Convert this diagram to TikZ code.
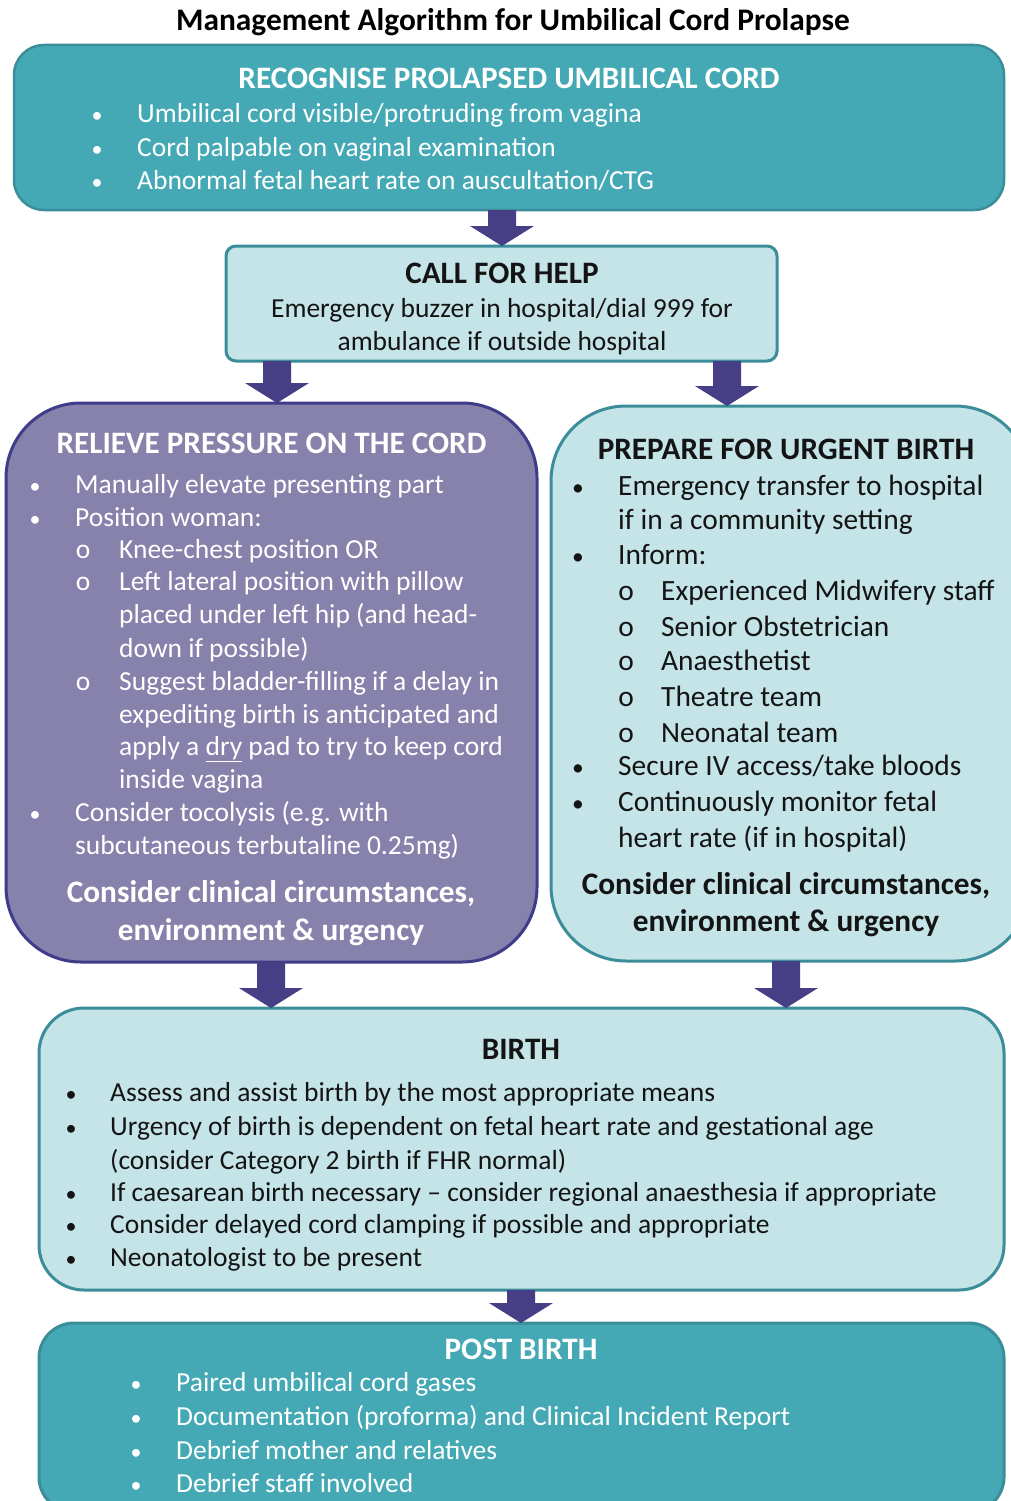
\documentclass[tikz,border=0pt]{standalone}
\usepackage{fontspec}
\setmainfont{Carlito}
\usetikzlibrary{calc}
\definecolor{tealfill}{HTML}{44A9B5}
\definecolor{tealline}{HTML}{3A8D99}
\definecolor{lightfill}{HTML}{C5E4E8}
\definecolor{purpfill}{HTML}{8682AC}
\definecolor{purpline}{HTML}{3F3C8A}
\definecolor{arrcol}{HTML}{463F85}
\definecolor{ink}{HTML}{141414}
\tikzset{
  boxbase/.style={inner sep=0pt, outer sep=0pt, line width=2.5pt},
  darkbox/.style={boxbase, fill=tealfill, draw=tealline},
  lightbox/.style={boxbase, fill=lightfill, draw=tealline},
  purpbox/.style={boxbase, fill=purpfill, draw=purpline},
  txw/.style={inner sep=0pt, text=white, font=\fontsize{27.5}{30}\selectfont},
  txk/.style={inner sep=0pt, text=ink, font=\fontsize{27.5}{30}\selectfont},
  txkb/.style={inner sep=0pt, text=ink, font=\fontsize{29.4}{30}\selectfont},
  hdw/.style={inner sep=0pt, anchor=base, text=white, font=\fontsize{31.2}{34}\selectfont\bfseries},
  hdk/.style={inner sep=0pt, anchor=base, text=ink, font=\fontsize{31.2}{34}\selectfont\bfseries},
  ccw/.style={inner sep=0pt, anchor=base, text=white, font=\fontsize{31.3}{34}\selectfont\bfseries},
  cck/.style={inner sep=0pt, anchor=base, text=ink, font=\fontsize{31.3}{34}\selectfont\bfseries},
}
\newcommand{\bdot}{\scalebox{0.8}{\textbullet}}
% bullet line: name, symbol, bullet x, text x, baseline y, style, text
\newcommand{\blt}[7]{%
  \node[#6, anchor=base] (#1b) at (#3,#5) {#2};
  \node[#6, anchor=base west] (#1) at (#4,#5) {#7};}
% block arrow from #1 (top) to #2 (tip)
\newcommand{\barrow}[2]{%
  \fill[arrcol] let \p1=(#1), \p2=(#2) in
    (\x1-14pt,\y1) -- (\x1+14pt,\y1) -- (\x1+14pt,\y2+20pt) -- (\x1+32pt,\y2+20pt)
    -- (\x1,\y2) -- (\x1-32pt,\y2+20pt) -- (\x1-14pt,\y2+20pt) -- cycle;}
\begin{document}
\begin{tikzpicture}[x=1pt,y=-1pt]
\useasboundingbox (0,0) rectangle (1011,1501);
\fill[white] (0,0) rectangle (1011,1501);

% title
\node[inner sep=0pt, anchor=base, text=black, font=\fontsize{31.4}{34}\selectfont\bfseries] (title) at (513,31) {Management Algorithm for Umbilical Cord Prolapse};

% boxes
\node[darkbox, rounded corners=30pt, minimum width=990pt, minimum height=165pt] (recog) at (509,127.5) {};
\node[lightbox, line width=3pt, rounded corners=10pt, minimum width=551pt, minimum height=115pt] (help) at (501.5,303.5) {};
\node[purpbox, line width=3pt, rounded corners=75pt, minimum width=531pt, minimum height=559pt] (relieve) at (271.5,682.5) {};
\node[lightbox, line width=3pt, rounded corners=75pt, minimum width=479pt, minimum height=555pt] (prepare) at (790.5,683.5) {};
\node[lightbox, line width=3pt, rounded corners=45pt, minimum width=965pt, minimum height=282pt] (birth) at (521.5,1149) {};
\node[darkbox, line width=3pt, rounded corners=35pt, minimum width=965pt, minimum height=189pt] (post) at (521.5,1417.5) {};

% arrow x positions
\coordinate (ax1) at (502,0);
\coordinate (ax2) at (277,0);
\coordinate (ax3) at (727,0);
\coordinate (ax4) at (271,0);
\coordinate (ax5) at (786,0);
\coordinate (ax6) at (521,0);
\barrow{recog.south -| ax1}{help.north -| ax1}
\barrow{help.south -| ax2}{relieve.north -| ax2}
\barrow{help.south -| ax3}{prepare.north -| ax3}
\barrow{relieve.south -| ax4}{birth.north -| ax4}
\barrow{prepare.south -| ax5}{birth.north -| ax5}
\barrow{birth.south -| ax6}{post.north -| ax6}

% box 1
\node[hdw] (r0) at (509,89) {RECOGNISE PROLAPSED UMBILICAL CORD};
\blt{r1}{\bdot}{97}{137}{123}{txw}{Umbilical cord visible/protruding from vagina}
\blt{r2}{\bdot}{97}{137}{157}{txw}{Cord palpable on vaginal examination}
\blt{r3}{\bdot}{97}{137}{189}{txw}{Abnormal fetal heart rate on auscultation/CTG}

% box 2
\node[hdk] (h0) at (502,283) {CALL FOR HELP};
\node[txk, anchor=base] (h1) at (502,317) {Emergency buzzer in hospital/dial 999 for};
\node[txk, anchor=base] (h2) at (502,350) {ambulance if outside hospital};

% box 3
\node[hdw] (p0) at (271.5,453) {RELIEVE PRESSURE ON THE CORD};
\blt{p1}{\bdot}{35}{75}{493}{txw}{Manually elevate presenting part}
\blt{p2}{\bdot}{35}{75}{526}{txw}{Position woman:}
\blt{p3}{o}{83}{119}{558}{txw}{Knee-chest position OR}
\blt{p4}{o}{83}{119}{590}{txw}{Left lateral position with pillow}
\node[txw, anchor=base west] (p5) at (119,623) {placed under left hip (and head-};
\node[txw, anchor=base west] (p6) at (119,657) {down if possible)};
\blt{p7}{o}{83}{119}{690}{txw}{Suggest bladder-filling if a delay in}
\node[txw, anchor=base west] (p8) at (119,723) {expediting birth is anticipated and};
\node[txw, anchor=base west] (p9) at (119,755) {apply a \underline{dry} pad to try to keep cord};
\node[txw, anchor=base west] (p10) at (119,788) {inside vagina};
\blt{p11}{\bdot}{35}{75}{821}{txw}{Consider tocolysis (e.g. with}
\node[txw, anchor=base west] (p12) at (75,854) {subcutaneous terbutaline 0.25mg)};
\node[ccw] (p13) at (271,902) {Consider clinical circumstances,};
\node[ccw] (p14) at (271,940) {environment \& urgency};

% box 4
\node[hdk] (u0) at (786,459) {PREPARE FOR URGENT BIRTH};
\blt{u1}{\bdot}{578}{618}{495}{txkb}{Emergency transfer to hospital}
\node[txkb, anchor=base west] (u2) at (618,529) {if in a community setting};
\blt{u3}{\bdot}{578}{618}{564}{txkb}{Inform:}
\blt{u4}{o}{626}{661}{600}{txkb}{Experienced Midwifery staff}
\blt{u5}{o}{626}{661}{636}{txkb}{Senior Obstetrician}
\blt{u6}{o}{626}{661}{670}{txkb}{Anaesthetist}
\blt{u7}{o}{626}{661}{706}{txkb}{Theatre team}
\blt{u8}{o}{626}{661}{742}{txkb}{Neonatal team}
\blt{u9}{\bdot}{578}{618}{775}{txkb}{Secure IV access/take bloods}
\blt{u10}{\bdot}{578}{618}{811}{txkb}{Continuously monitor fetal}
\node[txkb, anchor=base west] (u11) at (618,847) {heart rate (if in hospital)};
\node[cck] (u12) at (786,894) {Consider clinical circumstances,};
\node[cck] (u13) at (786,931) {environment \& urgency};

% box 5
\node[hdk] (b0) at (521,1059) {BIRTH};
\blt{b1}{\bdot}{71}{110}{1101}{txk}{Assess and assist birth by the most appropriate means}
\blt{b2}{\bdot}{71}{110}{1135}{txk}{Urgency of birth is dependent on fetal heart rate and gestational age}
\node[txk, anchor=base west] (b3) at (110,1169) {(consider Category 2 birth if FHR normal)};
\blt{b4}{\bdot}{71}{110}{1201}{txk}{If caesarean birth necessary – consider regional anaesthesia if appropriate}
\blt{b5}{\bdot}{71}{110}{1233}{txk}{Consider delayed cord clamping if possible and appropriate}
\blt{b6}{\bdot}{71}{110}{1266}{txk}{Neonatologist to be present}

% box 6
\node[hdw] (q0) at (521,1359) {POST BIRTH};
\blt{q1}{\bdot}{136}{176}{1391}{txw}{Paired umbilical cord gases}
\blt{q2}{\bdot}{136}{176}{1425}{txw}{Documentation (proforma) and Clinical Incident Report}
\blt{q3}{\bdot}{136}{176}{1459}{txw}{Debrief mother and relatives}
\blt{q4}{\bdot}{136}{176}{1492}{txw}{Debrief staff involved}
\end{tikzpicture}
\end{document}
